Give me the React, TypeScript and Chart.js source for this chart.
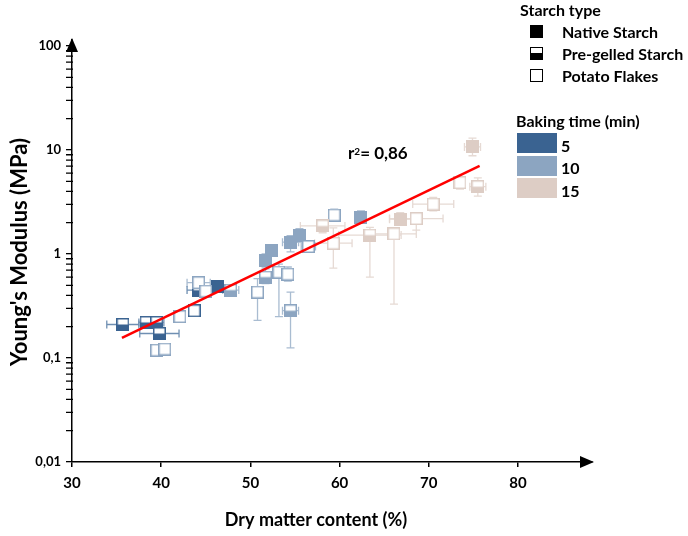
import { useEffect, useRef } from 'react';
import { Chart, registerables } from 'chart.js';

Chart.register(...registerables);

// Baking-time colours
const COLOR_5 = '#3a6391';
const COLOR_10 = '#8ca5c1';
const COLOR_15 = '#ddcdc5';
const ERR_5 = '#6f8fb2';
const ERR_10 = '#a9bcd1';
const ERR_15 = '#e6dad4';

// Each row: [dry matter %, modulus MPa, ± dry matter, modulus low, modulus high]
const native5 = [[46.3, 0.49, 0.5, 0.45, 0.54]];
const pregelled5 = [
  [35.7, 0.21, 1.8, 0.195, 0.226],
  [38.3, 0.22, 0.8, 0.205, 0.235],
  [39.5, 0.22, 0.8, 0.205, 0.235],
  [39.8, 0.172, 2.2, 0.16, 0.185],
  [44.2, 0.45, 1.3, 0.42, 0.49],
];
const flakes5 = [[43.7, 0.285, 0.4, 0.265, 0.305]];

const native10 = [
  [51.7, 0.86, 0.4, 0.75, 1.0],
  [52.4, 1.08, 0.5, 0.95, 1.22],
  [54.5, 1.3, 0.9, 1.05, 1.5],
  [55.5, 1.52, 0.5, 1.3, 1.75],
  [62.4, 2.25, 0.4, 2.0, 2.6],
];
const pregelled10 = [
  [47.8, 0.45, 0.9, 0.4, 0.5],
  [51.7, 0.6, 0.6, 0.52, 0.72],
  [54.5, 0.285, 0.9, 0.125, 0.43],
];
const flakes10 = [
  [39.5, 0.119, 0.3, 0.11, 0.128],
  [40.4, 0.122, 0.3, 0.113, 0.131],
  [42.1, 0.25, 0.3, 0.235, 0.265],
  [44.2, 0.53, 1.3, 0.49, 0.57],
  [45.0, 0.44, 0.4, 0.41, 0.47],
  [50.8, 0.43, 0.5, 0.23, 0.58],
  [53.2, 0.67, 0.5, 0.25, 0.8],
  [54.2, 0.64, 0.6, 0.55, 0.75],
  [56.5, 1.18, 0.8, 1.05, 1.3],
  [59.4, 2.37, 0.6, 2.1, 2.7],
];

const native15 = [
  [66.8, 2.16, 1.2, 1.9, 2.5],
  [74.9, 10.7, 0.9, 8.8, 13.0],
];
const pregelled15 = [
  [58.1, 1.86, 2.5, 1.6, 2.1],
  [63.4, 1.52, 3.5, 0.6, 1.8],
  [75.5, 4.44, 0.9, 3.6, 5.4],
];
const flakes15 = [
  [59.3, 1.27, 2.1, 0.73, 1.78],
  [66.1, 1.56, 2.5, 0.33, 1.75],
  [68.6, 2.19, 3.0, 1.7, 2.5],
  [70.5, 3.02, 2.3, 2.6, 3.5],
  [73.5, 4.85, 0.6, 4.2, 5.5],
];

// Power-law fit through all samples
const fitX = [35.6, 75.7];
const fitY = [0.156, 7.02];
const r2Label = '0,86';

const xTicks = [30, 40, 50, 60, 70, 80];
const yMajor = [0.01, 0.1, 1, 10, 100];
const yMajorLabels = ['0,01', '0,1', '1', '10', '100'];
const yMinor = [
  0.02, 0.03, 0.04, 0.05, 0.06, 0.07, 0.08, 0.09,
  0.2, 0.3, 0.4, 0.5, 0.6, 0.7, 0.8, 0.9,
  2, 3, 4, 5, 6, 7, 8, 9,
  20, 30, 40, 50, 60, 70, 80, 90,
];
const xTitle = 'Dry matter content (%)';
const yTitle = "Young's Modulus (MPa)";

const FONT = 'Lato, "Open Sans", sans-serif';

type Kind = 'native' | 'pregelled' | 'flakes';

function makeMarker(kind: Kind, color: string, size = 13): HTMLCanvasElement {
  const c = document.createElement('canvas');
  c.width = size;
  c.height = size;
  const ctx = c.getContext('2d')!;
  const lw = 1.5;
  const o = lw / 2;
  const s = size - lw;
  ctx.fillStyle = '#ffffff';
  ctx.fillRect(o, o, s, s);
  ctx.fillStyle = color;
  if (kind === 'native') ctx.fillRect(o, o, s, s);
  if (kind === 'pregelled') ctx.fillRect(o, size / 2, s, s / 2);
  ctx.strokeStyle = color;
  ctx.lineWidth = lw;
  ctx.strokeRect(o, o, s, s);
  return c;
}

function series(label: string, rows: number[][], kind: Kind, color: string, errColor: string) {
  return {
    type: 'scatter' as const,
    label,
    data: rows.map((r) => ({ x: r[0], y: r[1] })),
    errors: rows.map((r) => [r[2], r[3], r[4]]),
    errorColor: errColor,
    pointStyle: makeMarker(kind, color),
    pointRadius: 6.5,
    showLine: false,
  };
}

const errorBarsPlugin = {
  id: 'errorBars',
  beforeDatasetsDraw(chart: any) {
    const { ctx } = chart;
    const xs = chart.scales.x;
    const ys = chart.scales.y;
    const cap = 4;
    chart.data.datasets.forEach((ds: any) => {
      if (!ds.errors) return;
      ctx.save();
      ctx.strokeStyle = ds.errorColor;
      ctx.lineWidth = 1.3;
      ds.data.forEach((p: any, j: number) => {
        const [xe, yl, yh] = ds.errors[j];
        const px = xs.getPixelForValue(p.x);
        const py = ys.getPixelForValue(p.y);
        const x0 = xs.getPixelForValue(p.x - xe);
        const x1 = xs.getPixelForValue(p.x + xe);
        const y0 = ys.getPixelForValue(yl);
        const y1 = ys.getPixelForValue(yh);
        ctx.beginPath();
        ctx.moveTo(x0, py); ctx.lineTo(x1, py);
        ctx.moveTo(x0, py - cap); ctx.lineTo(x0, py + cap);
        ctx.moveTo(x1, py - cap); ctx.lineTo(x1, py + cap);
        ctx.moveTo(px, y0); ctx.lineTo(px, y1);
        ctx.moveTo(px - cap, y0); ctx.lineTo(px + cap, y0);
        ctx.moveTo(px - cap, y1); ctx.lineTo(px + cap, y1);
        ctx.stroke();
      });
      ctx.restore();
    });
  },
};

// Minor log ticks, axis arrows and axis titles
const axisDecorPlugin = {
  id: 'axisDecor',
  afterDraw(chart: any) {
    const { ctx, chartArea } = chart;
    const ys = chart.scales.y;
    const left = chartArea.left;
    ctx.save();
    ctx.strokeStyle = '#000000';
    ctx.lineWidth = 1.3;
    ctx.beginPath();
    yMinor.forEach((v) => {
      const py = ys.getPixelForValue(v);
      ctx.moveTo(left - 6, py);
      ctx.lineTo(left + 1, py);
    });
    ctx.stroke();

    ctx.fillStyle = '#000000';
    ctx.beginPath();
    ctx.moveTo(chartArea.right + 2, chartArea.bottom);
    ctx.lineTo(chartArea.right - 12, chartArea.bottom - 6);
    ctx.lineTo(chartArea.right - 12, chartArea.bottom + 6);
    ctx.closePath();
    ctx.fill();
    ctx.beginPath();
    ctx.moveTo(left, chartArea.top - 2);
    ctx.lineTo(left - 6, chartArea.top + 12);
    ctx.lineTo(left + 6, chartArea.top + 12);
    ctx.closePath();
    ctx.fill();

    ctx.textAlign = 'center';
    ctx.textBaseline = 'middle';
    ctx.font = `bold 18px ${FONT}`;
    ctx.fillText(xTitle, 316, 520);
    ctx.translate(20, 252);
    ctx.rotate(-Math.PI / 2);
    ctx.font = `bold 22px ${FONT}`;
    ctx.fillText(yTitle, 0, 0);
    ctx.restore();
  },
};

export default function App() {
  const canvasRef = useRef<HTMLCanvasElement>(null);

  useEffect(() => {
    const canvas = canvasRef.current;
    if (!canvas) return;
    const chart = new Chart(canvas, {
      type: 'scatter',
      data: {
        datasets: [
          {
            type: 'line',
            label: 'fit',
            data: fitX.map((x, i) => ({ x, y: fitY[i] })),
            borderColor: '#ff0000',
            borderWidth: 2.5,
            pointRadius: 0,
            showLine: true,
            order: -1,
          } as any,
          series('Potato Flakes 15', flakes15, 'flakes', COLOR_15, ERR_15),
          series('Pre-gelled 15', pregelled15, 'pregelled', COLOR_15, ERR_15),
          series('Native 15', native15, 'native', COLOR_15, ERR_15),
          series('Potato Flakes 10', flakes10, 'flakes', COLOR_10, ERR_10),
          series('Pre-gelled 10', pregelled10, 'pregelled', COLOR_10, ERR_10),
          series('Native 10', native10, 'native', COLOR_10, ERR_10),
          series('Potato Flakes 5', flakes5, 'flakes', COLOR_5, ERR_5),
          series('Pre-gelled 5', pregelled5, 'pregelled', COLOR_5, ERR_5),
          series('Native 5', native5, 'native', COLOR_5, ERR_5),
        ] as any,
      },
      options: {
        animation: false,
        responsive: false,
        devicePixelRatio: 1,
        layout: { padding: { top: 40, right: 96, left: 0, bottom: 0 } },
        plugins: { legend: { display: false }, tooltip: { enabled: false } },
        scales: {
          x: {
            type: 'linear',
            min: 30,
            max: 88.3,
            afterBuildTicks: (scale: any) => {
              scale.ticks = xTicks.map((v) => ({ value: v }));
            },
            afterFit: (scale: any) => {
              scale.height = 74;
            },
            grid: { display: true, drawOnChartArea: false, drawTicks: true, tickLength: 5, color: '#000', lineWidth: 1.5 },
            border: { display: true, color: '#000', width: 1.5 },
            ticks: {
              color: '#000',
              padding: 7,
              maxRotation: 0,
              font: { family: FONT, size: 15, weight: 'bold' },
              callback: (v: any) => String(v),
            },
          },
          y: {
            type: 'logarithmic',
            min: 0.01,
            max: 114.2,
            afterBuildTicks: (scale: any) => {
              scale.ticks = yMajor.map((v) => ({ value: v, major: true }));
            },
            afterFit: (scale: any) => {
              scale.width = 72;
            },
            grid: { display: true, drawOnChartArea: false, drawTicks: true, tickLength: 6, color: '#000', lineWidth: 1.3 },
            border: { display: true, color: '#000', width: 1.5 },
            ticks: {
              color: '#000',
              padding: 5,
              autoSkip: false,
              font: { family: FONT, size: 13, weight: 'bold' },
              callback: (v: any) => {
                const i = yMajor.indexOf(Number(v));
                return i >= 0 ? yMajorLabels[i] : '';
              },
            },
          },
        },
      } as any,
      plugins: [errorBarsPlugin, axisDecorPlugin],
    });
    return () => chart.destroy();
  }, []);

  const legendText: React.CSSProperties = {
    position: 'absolute',
    fontFamily: FONT,
    fontWeight: 700,
    fontSize: 16,
    color: '#000',
    whiteSpace: 'nowrap',
    lineHeight: '18px',
  };
  const iconBox = (top: number, kind: Kind) => (
    <div
      style={{
        position: 'absolute',
        left: 530,
        top,
        width: 11,
        height: 11,
        border: '1.5px solid #000',
        background:
          kind === 'native' ? '#000' : kind === 'pregelled' ? 'linear-gradient(#fff 0 45%, #000 45% 100%)' : '#fff',
      }}
    />
  );
  const swatch = (top: number, color: string) => (
    <div style={{ position: 'absolute', left: 517, top, width: 40, height: 20, background: color }} />
  );

  return (
    <div style={{ position: 'absolute', left: 0, top: 0, width: 688, height: 536, background: '#fff' }}>
      <canvas ref={canvasRef} width={688} height={536} style={{ display: 'block' }} />
      <div style={{ ...legendText, left: 520, top: 1 }}>Starch type</div>
      {iconBox(25, 'native')}
      <div style={{ ...legendText, left: 562, top: 23 }}>Native Starch</div>
      {iconBox(47, 'pregelled')}
      <div style={{ ...legendText, left: 562, top: 45 }}>Pre-gelled Starch</div>
      {iconBox(69, 'flakes')}
      <div style={{ ...legendText, left: 562, top: 67 }}>Potato Flakes</div>
      <div style={{ ...legendText, left: 516, top: 112 }}>Baking time (min)</div>
      {swatch(133, COLOR_5)}
      {swatch(155.5, COLOR_10)}
      {swatch(178, COLOR_15)}
      <div style={{ ...legendText, left: 561, top: 137 }}>5</div>
      <div style={{ ...legendText, left: 561, top: 159 }}>10</div>
      <div style={{ ...legendText, left: 561, top: 182 }}>15</div>
      <div style={{ ...legendText, left: 348, top: 144, fontSize: 17 }}>
        r<sup style={{ fontSize: 10, verticalAlign: 'top', position: 'relative', top: -2 }}>2</sup>= {r2Label}
      </div>
    </div>
  );
}
